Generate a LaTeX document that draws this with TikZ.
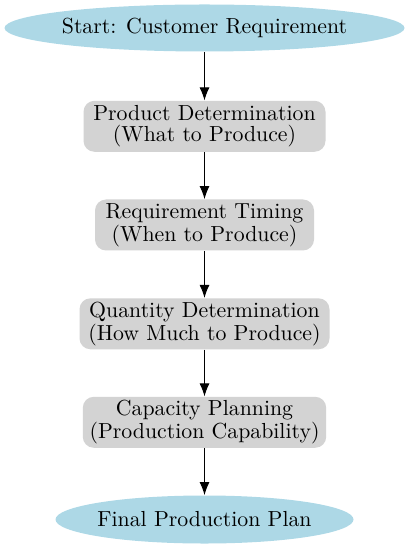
\documentclass[tikz,border=0pt]{standalone}
\usetikzlibrary{shapes.geometric,arrows.meta}
\definecolor{startblue}{HTML}{ADD8E6}
\definecolor{stepgray}{HTML}{D3D3D3}
\begin{document}
\begin{tikzpicture}[x=0.5pt,y=-0.5pt,
  every node/.style={font=\fontsize{10.9}{10.3}\selectfont, inner sep=0pt, align=center},
  terminal/.style={ellipse, fill=startblue, inner xsep=-4pt},
  stepbox/.style={rectangle, rounded corners=5.5pt, fill=stepgray, minimum height=25.5pt},
  conn/.style={-{Latex[length=6.5pt,width=5pt]}, line width=0.5pt}]
\useasboundingbox (0,0) rectangle (409,549);
\node[terminal, minimum width=200pt, minimum height=23.5pt] (s) at (204.5,28) {Start: Customer Requirement};
\node[stepbox, minimum width=121pt] (b1) at (204.5,126.3) {Product Determination\\(What to Produce)};
\node[stepbox, minimum width=109.5pt] (b2) at (204.5,225) {Requirement Timing\\(When to Produce)};
\node[stepbox, minimum width=125pt] (b3) at (204.5,323.8) {Quantity Determination\\(How Much to Produce)};
\node[stepbox, minimum width=121.7pt] (b4) at (204.5,422.3) {Capacity Planning\\(Production Capability)};
\node[terminal, minimum width=149pt, minimum height=24pt] (e) at (204.5,519.5) {Final Production Plan};
\draw[conn] (s) -- (b1);
\draw[conn] (b1) -- (b2);
\draw[conn] (b2) -- (b3);
\draw[conn] (b3) -- (b4);
\draw[conn] (b4) -- (e);
\end{tikzpicture}
\end{document}
